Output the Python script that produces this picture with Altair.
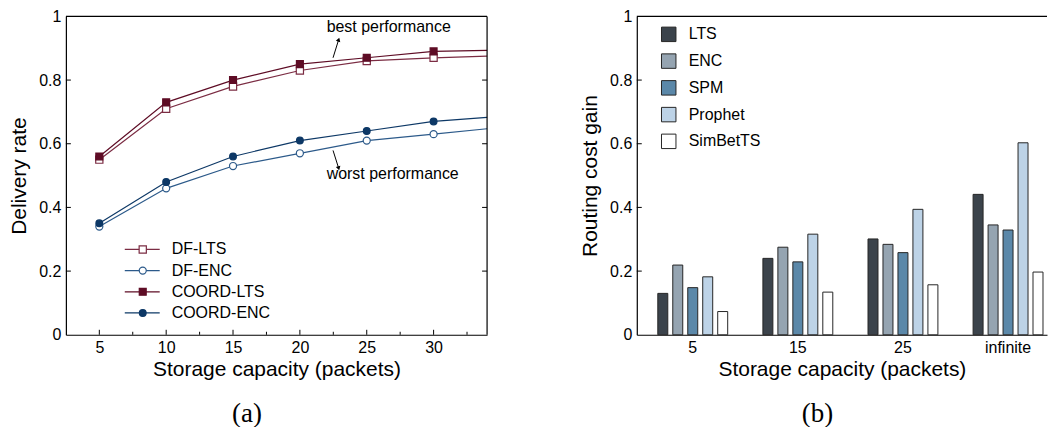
import altair as alt
import pandas as pd

# ---------------- Panel (a) data ----------------
capacity = [5, 10, 15, 20, 25, 30, 34]
df_lts = [0.55, 0.71, 0.78, 0.83, 0.86, 0.87, 0.875]
df_enc = [0.34, 0.46, 0.53, 0.57, 0.61, 0.63, 0.647]
coord_lts = [0.56, 0.73, 0.80, 0.85, 0.87, 0.89, 0.893]
coord_enc = [0.35, 0.48, 0.56, 0.61, 0.64, 0.67, 0.683]
series_names = ["DF-LTS", "DF-ENC", "COORD-LTS", "COORD-ENC"]
x_ticks = [5, 10, 15, 20, 25, 30]
x_minor = [7.5, 12.5, 17.5, 22.5, 27.5, 32.5]
y_ticks = [0, 0.2, 0.4, 0.6, 0.8, 1]

# annotations (data coordinates)
ann_text = ["best performance", "worst performance"]
ann_x = [22.0, 22.0]
ann_y = [0.968, 0.506]
arr_x = [22.48, 22.48]
arr_y = [0.870, 0.579]
arr_x2 = [22.9, 22.9]
arr_y2 = [0.927, 0.523]
arr_angle = [18, 164]

# ---------------- Panel (b) data ----------------
groups = ["5", "15", "25", "infinite"]
algos = ["LTS", "ENC", "SPM", "Prophet", "SimBetTS"]
gain_lts = [0.13, 0.24, 0.301, 0.441]
gain_enc = [0.219, 0.275, 0.284, 0.345]
gain_spm = [0.148, 0.229, 0.258, 0.329]
gain_prophet = [0.182, 0.316, 0.394, 0.603]
gain_simbet = [0.073, 0.134, 0.157, 0.197]

FONT = "Liberation Sans"
W1, W2, H = 422, 411, 319

# ---------------- build tables ----------------
rows = []
for name, vals in zip(series_names, [df_lts, df_enc, coord_lts, coord_enc]):
    for c, v in zip(capacity, vals):
        rows.append({"series": name, "cap": c, "val": v, "marked": c in x_ticks})
line_df = pd.DataFrame(rows)

stroke_scale = alt.Scale(domain=series_names,
                         range=["#7b2c43", "#2c5a8a", "#5e0c25", "#0d3866"])
fill_scale = alt.Scale(domain=series_names,
                       range=["#ffffff", "#ffffff", "#5e0c25", "#0d3866"])
shape_scale = alt.Scale(domain=series_names,
                        range=["square", "circle", "square", "circle"])
size_scale = alt.Scale(domain=series_names, range=[52, 46, 64, 52])

xs = alt.Scale(domain=[2.5, 34], nice=False, zero=False)
ys = alt.Scale(domain=[0, 1], nice=False)

xax = alt.Axis(values=x_ticks, title="Storage capacity (packets)", labelFlush=False)
yax = alt.Axis(values=y_ticks, format="~g", title="Delivery rate")


def X(f):
    return alt.X(f, scale=xs, axis=xax)


def Y(f):
    return alt.Y(f, scale=ys, axis=yax)


base = alt.Chart(line_df)
lines = base.mark_line(strokeWidth=1.2).encode(
    x=X("cap:Q"), y=Y("val:Q"),
    stroke=alt.Stroke("series:N", scale=stroke_scale, legend=None),
    detail="series:N",
)
points = base.transform_filter("datum.marked").mark_point(
    filled=True, opacity=1, strokeWidth=1.2
).encode(
    x=X("cap:Q"), y=Y("val:Q"),
    stroke=alt.Stroke("series:N", scale=stroke_scale, legend=None),
    fill=alt.Fill("series:N", scale=fill_scale, legend=None),
    shape=alt.Shape("series:N", scale=shape_scale, legend=None),
    size=alt.Size("series:N", scale=size_scale, legend=None),
)

# manual legend for panel (a)
leg = alt.Chart(pd.DataFrame({"series": series_names})).transform_window(
    rank="row_number()"
).transform_calculate(val="0.268 - (datum.rank - 1) * 0.0665")
leg_line = leg.mark_rule(strokeWidth=1.2).encode(
    x=alt.value(59), x2=alt.value(94), y=Y("val:Q"),
    stroke=alt.Stroke("series:N", scale=stroke_scale, legend=None),
)
leg_pt = leg.mark_point(filled=True, opacity=1, strokeWidth=1.2).encode(
    x=alt.value(77), y=Y("val:Q"),
    stroke=alt.Stroke("series:N", scale=stroke_scale, legend=None),
    fill=alt.Fill("series:N", scale=fill_scale, legend=None),
    shape=alt.Shape("series:N", scale=shape_scale, legend=None),
    size=alt.Size("series:N", scale=size_scale, legend=None),
)
leg_txt = leg.mark_text(align="left", baseline="middle", font=FONT, fontSize=16,
                        color="black").encode(
    x=alt.value(106), y=Y("val:Q"), text="series:N",
)

# ticks / frame for panel (a)
tk_y = alt.Chart(pd.DataFrame({"val": y_ticks[1:-1]}))
tick_l = tk_y.mark_rule(color="black").encode(
    y=Y("val:Q"), x=alt.value(0), x2=alt.value(5))
tick_r = tk_y.mark_rule(color="black").encode(
    y=Y("val:Q"), x=alt.value(W1 - 5), x2=alt.value(W1))
tick_b = alt.Chart(pd.DataFrame({"cap": x_ticks})).mark_rule(color="black").encode(
    x=X("cap:Q"), y=alt.value(H - 5), y2=alt.value(H))
tick_m = alt.Chart(pd.DataFrame({"cap": x_minor})).mark_rule(color="black").encode(
    x=X("cap:Q"), y=alt.value(H - 3), y2=alt.value(H))
one = pd.DataFrame({"k": [0]})
frame_top = alt.Chart(one).mark_rule(color="black", strokeWidth=1.2).encode(
    x=alt.value(0), x2=alt.value(W1), y=alt.value(0))
frame_right = alt.Chart(one).mark_rule(color="black", strokeWidth=1.2).encode(
    x=alt.value(W1), y=alt.value(0), y2=alt.value(H))

# annotations
ann_df = pd.DataFrame({"t": ann_text, "cap": ann_x, "val": ann_y,
                       "ax": arr_x, "ay": arr_y, "ax2": arr_x2, "ay2": arr_y2,
                       "ang": arr_angle})
ann_t = alt.Chart(ann_df).mark_text(align="left", baseline="middle", font=FONT,
                                    fontSize=16, color="black").encode(
    x=X("cap:Q"), y=Y("val:Q"), text="t:N")
ann_r = alt.Chart(ann_df).mark_rule(color="black", strokeWidth=1).encode(
    x=X("ax:Q"), y=Y("ay:Q"), x2="ax2:Q", y2="ay2:Q")
ann_h = alt.Chart(ann_df).mark_point(shape="triangle-up", filled=True, opacity=1,
                                     size=22, color="black").encode(
    x=X("ax2:Q"), y=Y("ay2:Q"), angle=alt.Angle("ang:Q", scale=None))

lab_a = alt.Chart(pd.DataFrame({"t": ["(a)"]})).mark_text(
    font="Liberation Serif", fontSize=27, align="center", baseline="middle",
    color="black").encode(text="t:N", x=alt.value(181.5), y=alt.value(398))

left = alt.layer(lines, tick_l, tick_r, tick_b, tick_m, frame_top, frame_right,
                 points, leg_line, leg_pt, leg_txt, ann_r, ann_h, ann_t, lab_a
                 ).properties(width=W1, height=H)

# ---------------- Panel (b) ----------------
brows = []
for a, vals in zip(algos, [gain_lts, gain_enc, gain_spm, gain_prophet, gain_simbet]):
    for g, v in zip(groups, vals):
        brows.append({"group": g, "algo": a, "value": v})
bar_df = pd.DataFrame(brows)

ys2 = alt.Scale(domain=[0, 1], nice=False)
yax2 = alt.Axis(values=y_ticks, format="~g", title="Routing cost gain")

bar_colors = ["#3b434b", "#95a4b1", "#5b88a9", "#bdd3e7", "#ffffff"]
bars = alt.Chart(bar_df).mark_bar(stroke="#262626", strokeWidth=1).encode(
    x=alt.X("group:N", sort=groups,
            scale=alt.Scale(paddingInner=0.335, paddingOuter=0.119, align=0.84),
            axis=alt.Axis(title="Storage capacity (packets)", labelAngle=0)),
    xOffset=alt.XOffset("algo:N", sort=algos,
                        scale=alt.Scale(paddingInner=1 / 3, paddingOuter=0)),
    y=alt.Y("value:Q", scale=ys2, axis=yax2),
    fill=alt.Fill("algo:N", sort=algos, scale=alt.Scale(domain=algos, range=bar_colors),
                  legend=alt.Legend(orient="none", legendX=24, legendY=10, title=None,
                                    symbolType="square", symbolSize=210,
                                    symbolStrokeColor="#262626", symbolStrokeWidth=1,
                                    labelFont=FONT, labelFontSize=16, labelColor="black",
                                    labelOffset=12, rowPadding=6.8, padding=0)),
)
tick_l2 = alt.Chart(pd.DataFrame({"value": y_ticks[1:-1]})).mark_rule(color="black").encode(
    y=alt.Y("value:Q", scale=ys2, axis=yax2), x=alt.value(0), x2=alt.value(5))
frame_top2 = alt.Chart(one).mark_rule(color="black", strokeWidth=1.2).encode(
    x=alt.value(0), x2=alt.value(W2), y=alt.value(0))
lab_b = alt.Chart(pd.DataFrame({"t": ["(b)"]})).mark_text(
    font="Liberation Serif", fontSize=27, align="center", baseline="middle",
    color="black").encode(text="t:N", x=alt.value(181), y=alt.value(398))

right = alt.layer(bars, tick_l2, frame_top2, lab_b).properties(width=W2, height=H)

chart = alt.hconcat(left, right, spacing=150, bounds="flush").resolve_scale(
    fill="independent", stroke="independent", shape="independent", size="independent"
).resolve_legend(fill="independent").properties(
    padding={"left": 0, "top": 0, "right": 0, "bottom": 0}
).configure_view(stroke=None).configure_axis(
    labelFont=FONT, labelFontSize=16, labelColor="black",
    titleFont=FONT, titleFontSize=21, titleFontWeight="normal", titleColor="black",
    domainColor="black", domainWidth=1.2, ticks=False, tickSize=0, grid=False,
    labelPadding=5,
).configure_axisY(titlePadding=9).configure_axisX(titlePadding=3)

chart.save("out.html", embed_options={"renderer": "svg", "actions": False})
